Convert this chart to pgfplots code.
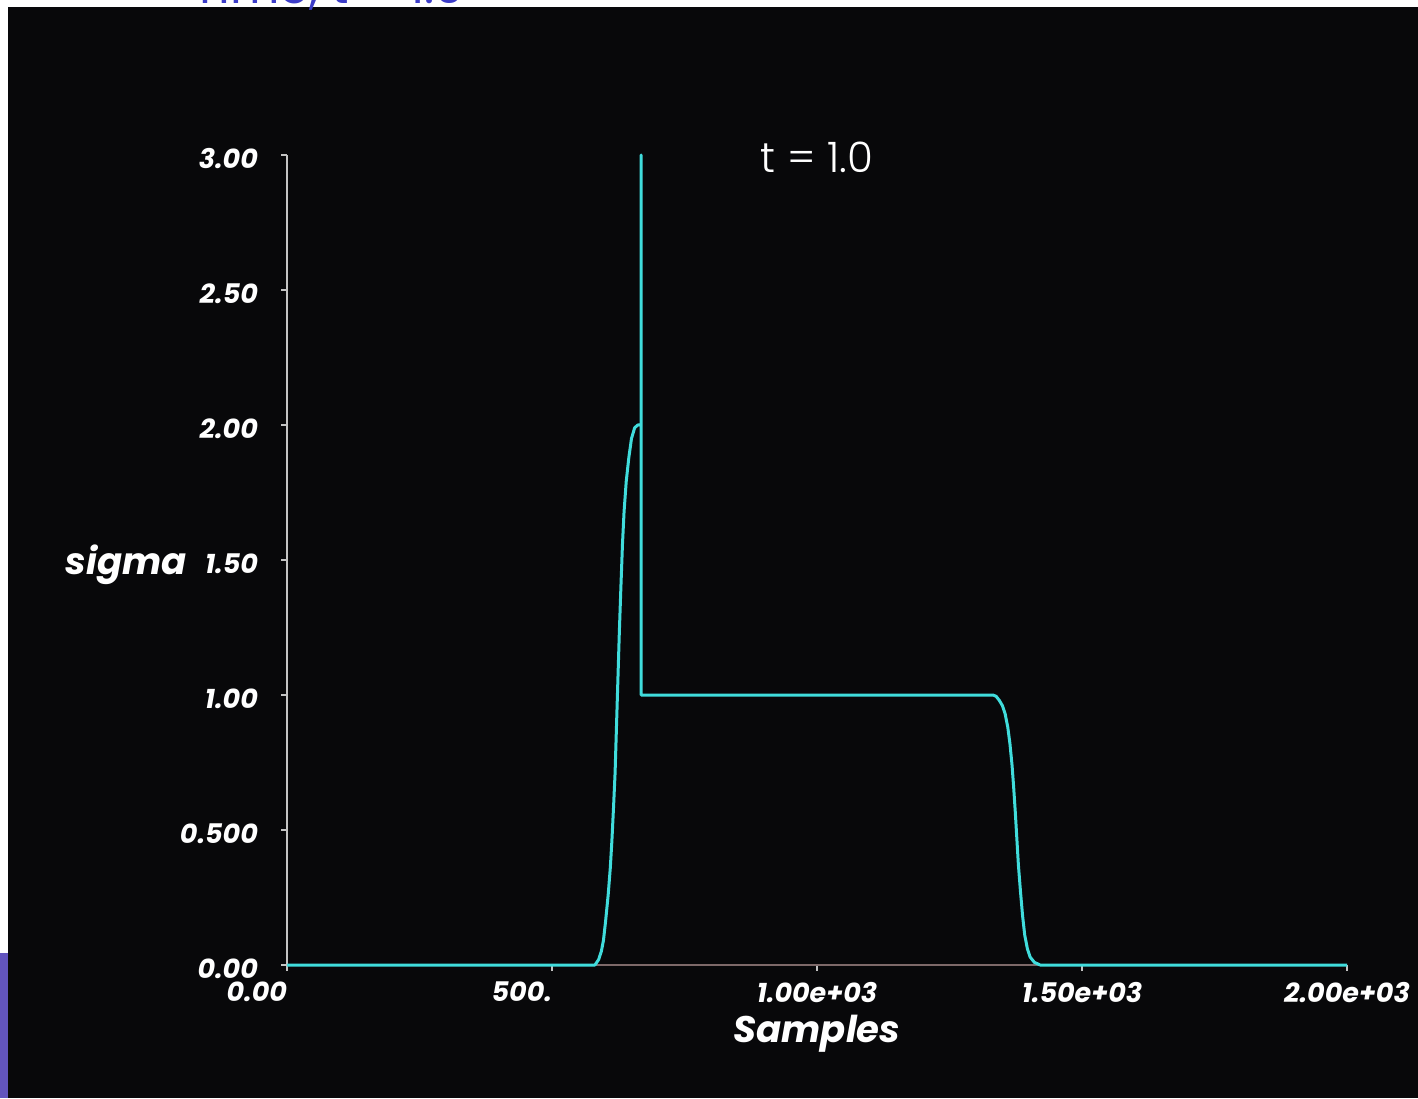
\documentclass[border=0pt]{standalone}
\usepackage{pgfplots}
\pgfplotsset{compat=1.18}
\usepackage{fontspec}
\setmainfont{Poppins}
\newfontfamily\popfam{Poppins}
\newfontfamily\poplight{Poppins Light}
\definecolor{bgblack}{RGB}{8,8,10}
\definecolor{cyanline}{RGB}{64,220,220}
\definecolor{brownline}{RGB}{125,105,105}
\definecolor{axgray}{RGB}{195,195,195}
\definecolor{slidepurple}{RGB}{98,84,190}
\definecolor{titleblue}{RGB}{60,60,200}
\newcommand{\tickfont}{\popfam\bfseries\itshape\fontsize{13.5}{15}\selectfont}
\newcommand{\labfont}{\popfam\bfseries\itshape\fontsize{18.5}{21}\selectfont}
\begin{document}
\begin{tikzpicture}[x=0.5pt,y=0.5pt]
\fill[white] (0,0) rectangle (1418,1098);
\fill[bgblack] (8,0) rectangle (1418,1091);
\fill[slidepurple] (0,0) rectangle (8,145);
\node[anchor=base west, inner sep=0pt, text=titleblue, font=\popfam\fontsize{24}{28}\selectfont] at (192,1094) {Time, t = 1.0};
\begin{axis}[
  at={(143.5pt,66.5pt)}, anchor=south west,
  scale only axis, width=530pt, height=405pt,
  xmin=0, xmax=2000, ymin=0, ymax=3,
  clip=false,
  axis lines=left,
  axis line style={axgray, line width=1pt, -},
  tick align=outside, major tick length=3pt,
  tick style={axgray, line width=1pt},
  xtick={0,500,1000,1500,2000},
  xticklabels={\makebox[0pt][r]{0.00},\makebox[0pt][r]{500.},1.00e+03,1.50e+03,2.00e+03},
  ytick={0,0.5,1,1.5,2,2.5,3},
  yticklabels={0.00,0.500,1.00,1.50,2.00,2.50,3.00},
  ticklabel style={font=\tickfont, text=white},
  yticklabel style={anchor=east, xshift=-8pt, yshift=-2pt},
  xticklabel style={anchor=north, yshift=-2pt},
  xlabel={Samples}, ylabel={sigma},
  label style={font=\labfont, text=white},
  xlabel style={at={(axis description cs:0.5,0)}, anchor=north, inner sep=0pt, yshift=-25pt},
  ylabel style={at={(axis description cs:0,0.494)}, rotate=-90, anchor=east, inner sep=0pt, xshift=-50pt},
]
\addplot[brownline, line width=1.2pt] coordinates {(0,0) (2000,0)};
\addplot[cyanline, line width=1.5pt, line join=round] coordinates {
(0,0) (581,0) (588,0.02) (593,0.05) (597,0.09) (601,0.16) (606,0.26) (610,0.36) (613,0.46)
(616,0.58) (619,0.71) (621,0.84) (623,0.97) (625,1.1) (627,1.23) (630,1.4)
(633,1.56) (636,1.68) (640,1.79) (645,1.88) (650,1.95) (656,1.99) (662,2.0) (668,2.0)
(668,3.0) (668,1.0) (1332,1.0) (1338,0.995) (1344,0.98) (1350,0.96) (1355,0.93) (1360,0.88)
(1364,0.82) (1368,0.74) (1371,0.66) (1374,0.57) (1377,0.47) (1380,0.37) (1384,0.27) (1388,0.18)
(1392,0.11) (1397,0.06) (1402,0.03) (1410,0.01) (1421,0) (2000,0)};
\node[text=white, font=\poplight\fontsize{21}{25}\selectfont] at (axis cs:1000,2.99) {t = 1.0};
\end{axis}
\pgfresetboundingbox
\useasboundingbox (0,0) rectangle (1418,1098);
\end{tikzpicture}
\end{document}
